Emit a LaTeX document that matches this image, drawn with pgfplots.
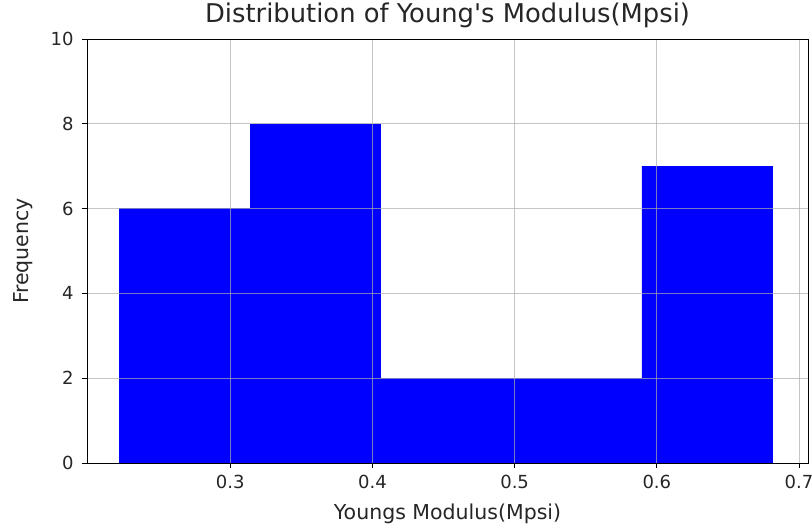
\documentclass[border=0pt]{standalone}
\usepackage{fontspec}
\setmainfont{DejaVu Sans}[Ligatures=TeXOff]
\usepackage{pgfplots}
\pgfplotsset{compat=1.18}
\begin{document}
\begin{tikzpicture}
\begin{axis}[
  name=ax,
  scale only axis,
  width=721bp, height=424bp,
  xmin=0.1993, xmax=0.7063,
  ymin=0, ymax=10,
  xtick={0.3,0.4,0.5,0.6,0.7},
  xticklabels={0.3,0.4,0.5,0.6,0.7},
  ytick={0,2,4,6,8,10},
  xtick pos=left, ytick pos=left,
  tick align=outside,
  major tick length=5bp,
  tick style={black, line width=0.8pt},
  axis line style={black, line width=0.9pt},
  grid=major,
  major grid style={gray!65, line width=0.8pt, opacity=0.7},
  axis on top,
  /pgf/number format/assume math mode=true,
  ticklabel style={font=\fontsize{18bp}{20bp}\selectfont, text=black!85},
  xticklabel style={yshift=-4bp},
  yticklabel style={xshift=-5bp},
  title={Distribution of Young's Modulus(Mpsi)},
  title style={font=\fontsize{25.8bp}{28bp}\selectfont, text=black!85, at={(0.5,1)}, anchor=base, yshift=11bp},
  xlabel={Youngs Modulus(Mpsi)},
  ylabel={Frequency},
  label style={font=\fontsize{20.5bp}{22bp}\selectfont, text=black!85},
  xlabel style={at={(0.5,0)}, anchor=base, yshift=-56bp},
  ylabel style={at={(0,0.5)}, anchor=base, rotate=0, yshift=58bp},
]
\addplot[ybar interval, fill=blue, draw=blue] coordinates {
  (0.2222,6) (0.3140,8) (0.4058,2) (0.4976,2) (0.5894,7) (0.6812,7)
};
\end{axis}
\pgfresetboundingbox
\path[use as bounding box] ([shift={(-87bp,-66bp)}]ax.south west) rectangle ([shift={(4bp,39bp)}]ax.north east);
\end{tikzpicture}
\end{document}
